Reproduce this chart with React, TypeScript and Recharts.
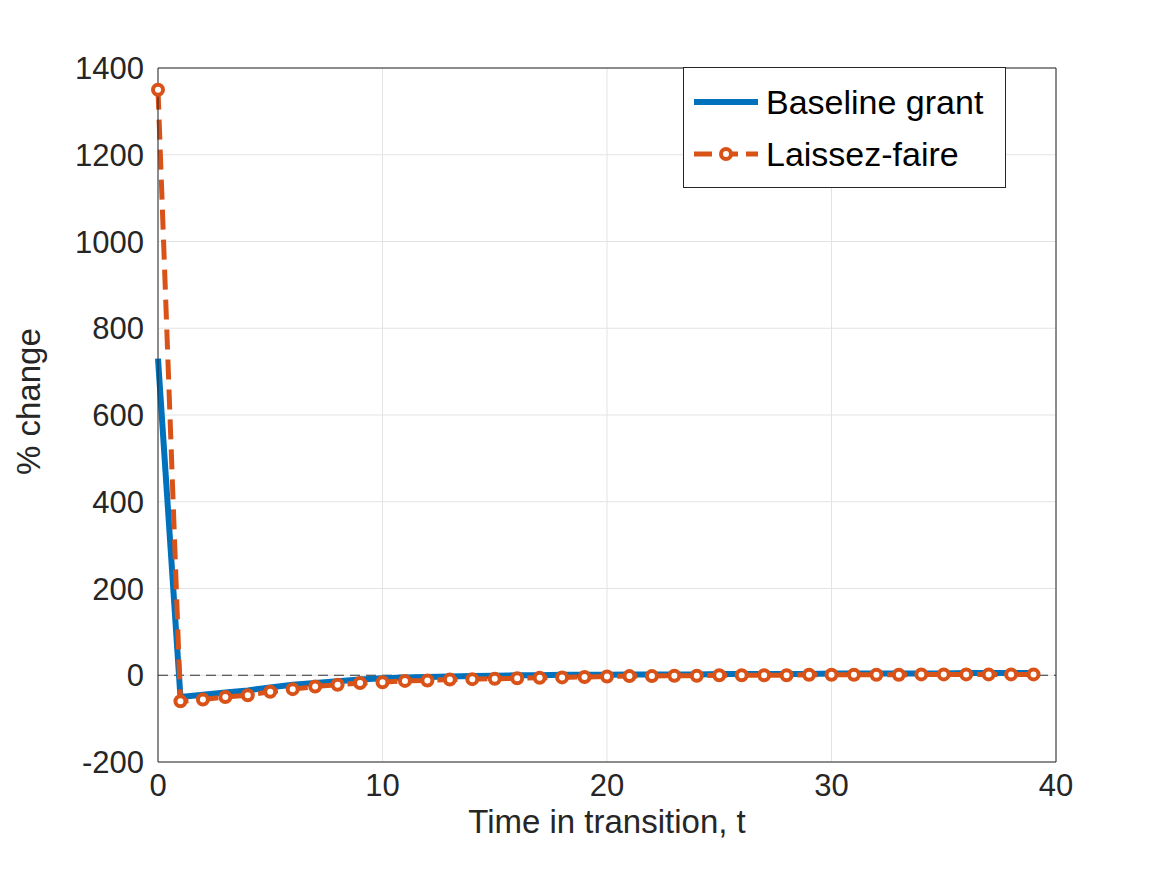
import React from 'react';
import { LineChart, Line, XAxis, YAxis, CartesianGrid, ReferenceLine } from 'recharts';

const ts = Array.from({ length: 40 }, (_, i) => i);
const baseline = [730, -50, -45, -40, -35, -28, -22, -18, -14, -10, -7, -5, -4, -3, -2, -1, 0, 0, 1, 1, 1, 2, 2, 2, 2, 3, 3, 3, 3, 3, 4, 4, 4, 4, 4, 4, 5, 5, 5, 5];
const laissez = [1350, -60, -56, -50, -46, -38, -32, -26, -22, -18, -16, -13, -12, -10, -9, -8, -7, -6, -5, -4, -3, -2, -2, -1, -1, 0, 0, 0, 0, 1, 1, 1, 1, 1, 2, 2, 2, 2, 2, 2];
const data = ts.map((t, i) => ({ t, b: baseline[i], l: laissez[i] }));
const xTicks = [0, 10, 20, 30, 40];
const yTicks = [-200, 0, 200, 400, 600, 800, 1000, 1200, 1400];

const font = 'Helvetica, Arial, "Liberation Sans", sans-serif';

export default function App() {
  return (
    <div style={{ fontFamily: font, position: 'relative', width: 1151, height: 859 }}>
      <LineChart width={1151} height={859} data={data} margin={{ top: 59, right: 102, bottom: 45, left: 80 }}>
        <CartesianGrid stroke="#e3e3e3" />
        <XAxis dataKey="t" type="number" domain={[0, 40]} ticks={xTicks} interval={0} height={60}
          tick={{ fill: '#262626', fontSize: 31 }} tickSize={0} tickMargin={12} stroke="#262626"
          label={{ value: 'Time in transition, t', position: 'bottom', offset: -12, fill: '#262626', fontSize: 33 }} />
        <YAxis type="number" domain={[-200, 1400]} ticks={yTicks} interval={0} width={70}
          tick={{ fill: '#262626', fontSize: 31 }} tickSize={0} tickMargin={14} stroke="#262626"
          label={{ value: '% change', angle: -90, position: 'insideLeft', offset: -60, dy: 60, fill: '#262626', fontSize: 33 }} />
        <XAxis xAxisId="top" orientation="top" dataKey="t" type="number" domain={[0, 40]} ticks={xTicks} tick={false} tickSize={0} height={1} stroke="#262626" />
        <YAxis yAxisId="right" orientation="right" type="number" domain={[-200, 1400]} ticks={yTicks} tick={false} tickSize={0} width={1} stroke="#262626" />
        <ReferenceLine y={0} stroke="#333" strokeDasharray="10 6" strokeWidth={1.2} />
        <Line dataKey="b" name="Baseline grant" stroke="#0072bd" strokeWidth={6} dot={false} isAnimationActive={false} />
        <Line dataKey="l" name="Laissez-faire" stroke="#d95319" strokeWidth={5} strokeDasharray="20 10"
          dot={{ r: 5, fill: '#fff', stroke: '#d95319', strokeWidth: 4, strokeDasharray: '' }} isAnimationActive={false} />
      </LineChart>
      <div style={{ position: 'absolute', left: 675, top: 59, width: 323, height: 121, boxSizing: 'border-box', background: '#fff', border: '1px solid #262626', padding: '8px 8px', fontSize: 34, color: '#000', lineHeight: '52px' }}>
        <div style={{ display: 'flex', alignItems: 'center' }}>
          <svg width={70} height={20}><line x1={2} y1={10} x2={66} y2={10} stroke="#0072bd" strokeWidth={6} /></svg>
          <span style={{ marginLeft: 4 }}>Baseline grant</span>
        </div>
        <div style={{ display: 'flex', alignItems: 'center' }}>
          <svg width={70} height={20}><line x1={2} y1={10} x2={66} y2={10} stroke="#d95319" strokeWidth={5} strokeDasharray="18 8" /><circle cx={34} cy={10} r={5} fill="#fff" stroke="#d95319" strokeWidth={4} /></svg>
          <span style={{ marginLeft: 4 }}>Laissez-faire</span>
        </div>
      </div>
    </div>
  );
}
